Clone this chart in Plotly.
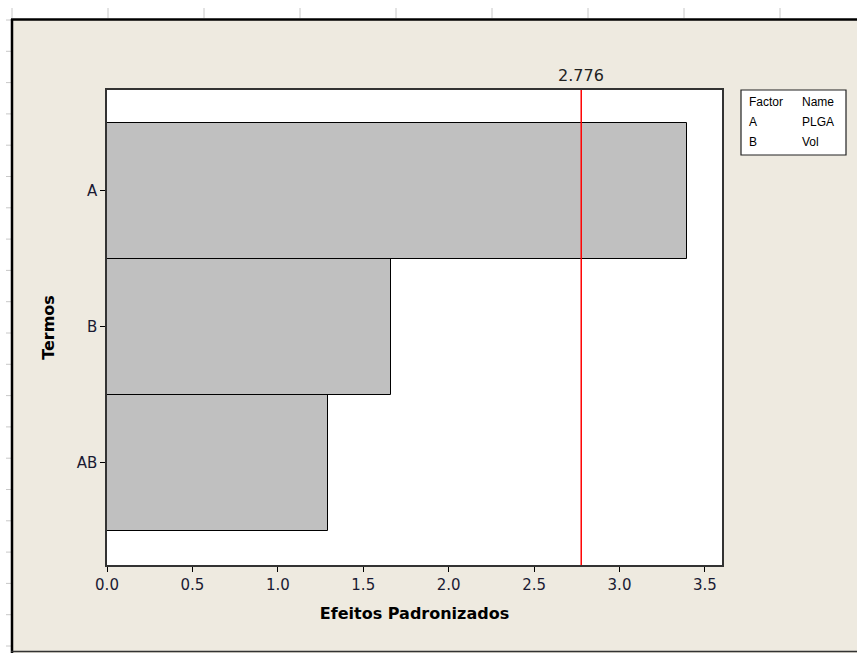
import plotly.graph_objects as go

# Pareto chart of standardized effects
terms = ["AB", "B", "A"]
effects = [1.293, 1.662, 3.395]
critical_value = 2.776
x_ticks = [0.0, 0.5, 1.0, 1.5, 2.0, 2.5, 3.0, 3.5]
factor_codes = ["A", "B"]
factor_names = ["PLGA", "Vol"]

W, H = 857, 653
L, R, T, B = 107, 722, 90, 565  # plot area in pixels
BEIGE = "#EEEAE0"
TICK_COLOR = "#1A1A33"


def px(x):
    return (x - L) / (R - L)


def py(y):
    return (B - y) / (B - T)


fig = go.Figure()
fig.add_trace(go.Bar(
    x=effects, y=terms, orientation="h", width=1.0,
    marker=dict(color="#C0C0C0", line=dict(color="#000000", width=1)),
    hoverinfo="x+y", showlegend=False,
))

shapes = []
# white strips (ruler zone) above and left of the frame
shapes.append(dict(type="rect", xref="paper", yref="paper", x0=px(0), x1=px(W), y0=py(19), y1=py(0),
                   fillcolor="white", line=dict(width=0), layer="above"))
shapes.append(dict(type="rect", xref="paper", yref="paper", x0=px(0), x1=px(11), y0=py(H), y1=py(0),
                   fillcolor="white", line=dict(width=0), layer="above"))
# ruler ticks
for i in range(9):
    xx = 12 + 96 * i
    shapes.append(dict(type="line", xref="paper", yref="paper", x0=px(xx), x1=px(xx), y0=py(8), y1=py(18),
                       line=dict(color="#C8C8C8", width=1), layer="above"))
for j in range(21):
    yy = 20 + 31.3 * j
    if yy > H:
        break
    shapes.append(dict(type="line", xref="paper", yref="paper", x0=px(6), x1=px(11), y0=py(yy), y1=py(yy),
                       line=dict(color="#C8C8C8", width=1), layer="above"))
# dark frame of the graph window
shapes.append(dict(type="line", xref="paper", yref="paper", x0=px(11), x1=px(W + 5), y0=py(19.5), y1=py(19.5),
                   line=dict(color="#000000", width=2.5), layer="above"))
shapes.append(dict(type="line", xref="paper", yref="paper", x0=px(12), x1=px(12), y0=py(19), y1=py(H + 5),
                   line=dict(color="#000000", width=2.5), layer="above"))
shapes.append(dict(type="line", xref="paper", yref="paper", x0=px(11), x1=px(W + 5), y0=py(651.5), y1=py(651.5),
                   line=dict(color="#333333", width=1.5), layer="above"))
# critical value reference line
shapes.append(dict(type="line", xref="x", yref="paper", x0=critical_value, x1=critical_value, y0=0, y1=1,
                   line=dict(color="#FF0000", width=1.5), layer="above"))
# legend box for factor names
shapes.append(dict(type="rect", xref="paper", yref="paper", x0=px(741), x1=px(846), y0=py(155), y1=py(90),
                   fillcolor="white", line=dict(color="#222222", width=1.2), layer="above"))

annotations = [
    dict(x=critical_value, y=1, xref="x", yref="paper", text=f"{critical_value:.3f}", showarrow=False,
         yanchor="bottom", yshift=3, font=dict(family="DejaVu Sans", size=16, color="#222222")),
]
rows = [("Factor", "Name")] + list(zip(factor_codes, factor_names))
for k, (c, n) in enumerate(rows):
    yy = 102 + 20 * k
    annotations.append(dict(x=px(747), y=py(yy), xref="paper", yref="paper", text=c, showarrow=False,
                            xanchor="left", yanchor="middle",
                            font=dict(family="Liberation Sans", size=12, color="#000000")))
    annotations.append(dict(x=px(800), y=py(yy), xref="paper", yref="paper", text=n, showarrow=False,
                            xanchor="left", yanchor="middle",
                            font=dict(family="Liberation Sans", size=12, color="#000000")))

fig.update_layout(
    width=W, height=H,
    margin=dict(l=L, r=W - R, t=T, b=H - B),
    paper_bgcolor=BEIGE, plot_bgcolor="white",
    shapes=shapes, annotations=annotations,
    bargap=0,
    xaxis=dict(
        range=[0, 3.6], tickvals=x_ticks, ticktext=[f"{v:.1f}" for v in x_ticks],
        ticks="outside", ticklen=5, tickcolor="#000000", showgrid=False, zeroline=False,
        showline=True, linecolor="#333333", linewidth=1.5, mirror=True,
        tickfont=dict(family="DejaVu Sans", size=15, color=TICK_COLOR),
        title=dict(text="<b>Efeitos Padronizados</b>", standoff=15,
                   font=dict(family="DejaVu Sans", size=16, color="#000000")),
    ),
    yaxis=dict(
        range=[-0.75, 2.74], categoryorder="array", categoryarray=terms,
        ticks="outside", ticklen=5, tickcolor="#000000", showgrid=False, zeroline=False,
        showline=True, linecolor="#333333", linewidth=1.5, mirror=True,
        tickfont=dict(family="DejaVu Sans", size=15, color=TICK_COLOR),
        title=dict(text="<b>Termos</b>", standoff=18,
                   font=dict(family="DejaVu Sans", size=16, color="#000000")),
    ),
)

fig.write_html("out.html")
